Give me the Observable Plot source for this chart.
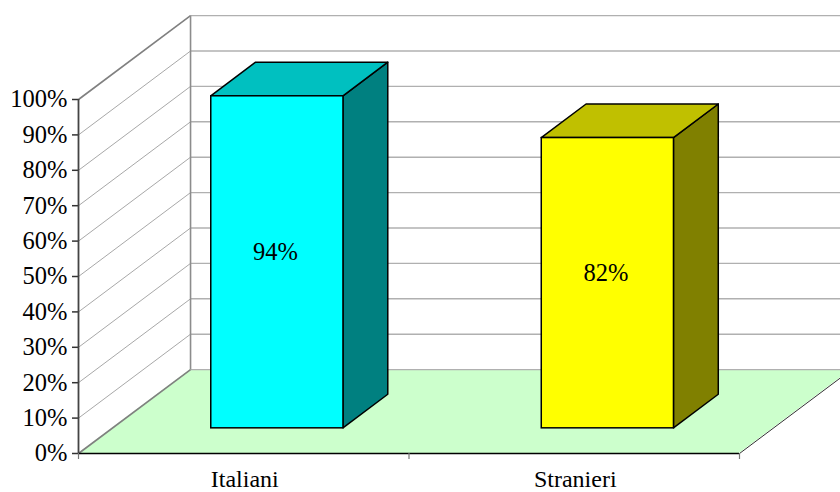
<!DOCTYPE html>
<html>
<head>
<meta charset="utf-8">
<script src="https://cdn.jsdelivr.net/npm/d3@7"></script>
<script src="https://cdn.jsdelivr.net/npm/@observablehq/plot@0.6"></script>
<style>html,body{margin:0;padding:0;background:#fff;overflow:hidden}svg{display:block}</style>
</head>
<body>
<div id="chart"></div>
<script>
const categories = ["Italiani", "Stranieri"];
const values = [93.8, 82];
const frontColors = ["#00ffff", "#ffff00"];
const topColors = ["#00c0c0", "#c0c000"];
const sideColors = ["#008080", "#808000"];
const yTicks = [0, 10, 20, 30, 40, 50, 60, 70, 80, 90, 100];

// Oblique 3D projection, expressed in data units of the two scales
const depthX = 0.339, depthY = 23.7;
const barStart = 0.3, barEnd = 0.7, depthStart = 0.3, depthEnd = 0.7;
const px = (c, d) => c + d * depthX;
const py = (v, d) => v + d * depthY;

const bars = categories.map((name, i) => ({
  name, i, value: values[i],
  front: frontColors[i], top: topColors[i], side: sideColors[i],
  l: i + barStart, r: i + barEnd
}));

const floor = [0, 1].map(d => ({x1: px(0, d), x2: px(2, d), y1: py(0, d), y2: py(0, d)}));
const topFaces = bars.flatMap(b => [depthStart, depthEnd].map(d => ({
  key: b.name, fill: b.top,
  x1: px(b.l, d), x2: px(b.r, d), y1: py(b.value, d), y2: py(b.value, d)
})));
const sideFaces = bars.flatMap(b => [depthStart, depthEnd].map(d => ({
  key: b.name, fill: b.side,
  x1: px(b.r, d), x2: px(b.r, d), y1: py(0, d), y2: py(b.value, d)
})));
const frontFaces = bars.map(b => ({
  fill: b.front,
  x1: px(b.l, depthStart), x2: px(b.r, depthStart),
  y1: py(0, depthStart), y2: py(b.value, depthStart)
}));

const serif = "Liberation Serif";
const fs = 24.5;

const plot = Plot.plot({
  width: 840, height: 492,
  marginLeft: 78, marginRight: 101, marginTop: 99, marginBottom: 39,
  x: {domain: [0, 2], axis: null},
  y: {domain: [0, 100], axis: null},
  style: {fontFamily: serif, background: "#fff", color: "#000"},
  marks: [
    // floor
    Plot.area(floor, {x1: "x1", x2: "x2", y1: "y1", y2: "y2", fill: "#ccffcc"}),
    // side wall gridlines
    Plot.link(yTicks.slice(1, -1), {x1: 0, y1: d => d, x2: px(0, 1), y2: d => py(d, 1), stroke: "#a8a8a8", strokeWidth: 1}),
    // back wall gridlines
    Plot.link(yTicks, {x1: px(0, 1), y1: d => py(d, 1), x2: px(2, 1), y2: d => py(d, 1), stroke: "#b0b0b0", strokeWidth: 1.4}),
    // wall edges
    Plot.link([0, 100], {x1: 0, y1: d => d, x2: px(0, 1), y2: d => py(d, 1), stroke: "#808080", strokeWidth: 1.6}),
    Plot.link([0], {x1: px(0, 1), y1: py(0, 1), x2: px(0, 1), y2: py(100, 1), stroke: "#8c8c8c", strokeWidth: 1.6}),
    // floor right edge
    Plot.link([2], {x1: d => d, y1: 0, x2: d => px(d, 1), y2: py(0, 1), stroke: "#333", strokeWidth: 1}),
    // front floor edge
    Plot.ruleY([0], {x1: 0, x2: 2, stroke: "#000", strokeWidth: 1.5}),
    // bars
    Plot.area(sideFaces, {x1: "x1", x2: "x2", y1: "y1", y2: "y2", z: "key", fill: "fill", stroke: "#000", strokeWidth: 1.5}),
    Plot.area(topFaces, {x1: "x1", x2: "x2", y1: "y1", y2: "y2", z: "key", fill: "fill", stroke: "#000", strokeWidth: 1.5}),
    Plot.rect(frontFaces, {x1: "x1", x2: "x2", y1: "y1", y2: "y2", fill: "fill", stroke: "#000", strokeWidth: 1.5}),
    // value labels
    Plot.text(bars, {x: b => px(b.i + 0.5, depthStart), y: b => py(b.value / 2, depthStart), text: b => Math.round(b.value) + "%", fontSize: fs, dy: -10, dx: -2, fill: "#000"}),
    // axes
    Plot.axisY({ticks: yTicks, tickSize: 6, tickPadding: 5, tickFormat: d => d + "%", fontSize: fs, stroke: "#333", strokeWidth: 1.5, fill: "#000", label: null}),
    Plot.ruleX([0], {y1: 0, y2: 100, stroke: "#444", strokeWidth: 1.8}),
    Plot.axisX({ticks: [0, 1, 2], tickSize: 6, tickFormat: () => "", stroke: "#777", strokeWidth: 1.2, label: null}),
    Plot.text(categories, {x: (d, i) => i + 0.5, y: 0, text: d => d, fontSize: 24, dy: 26, dx: 1, fill: "#000"})
  ]
});
document.getElementById("chart").append(plot);
</script>
</body>
</html>
